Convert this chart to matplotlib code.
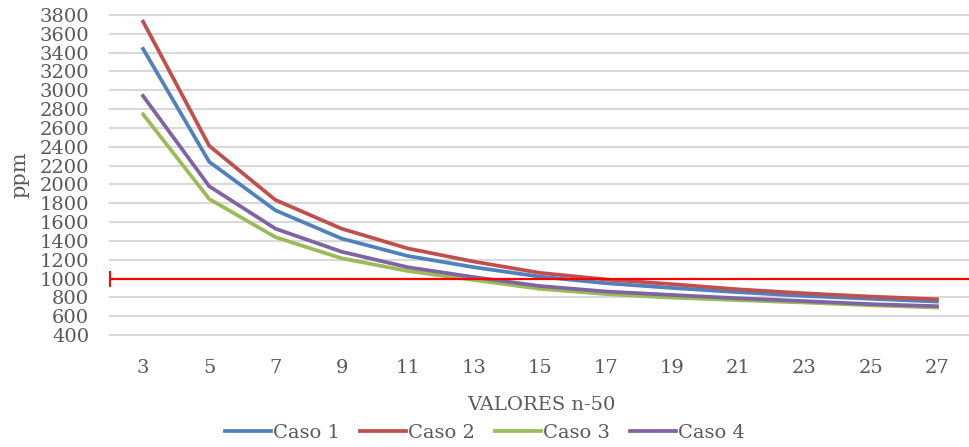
import matplotlib
matplotlib.use("Agg")
from matplotlib import pyplot as plt
from matplotlib.ticker import MultipleLocator

# valores n-50 (categorias)
n_vals = ["3", "5", "7", "9", "11", "13", "15", "17", "19", "21", "23", "25", "27"]

caso1 = [3440, 2240, 1725, 1425, 1240, 1120, 1020, 950, 900, 855, 815, 785, 755]
caso2 = [3730, 2410, 1835, 1530, 1320, 1180, 1060, 990, 940, 885, 843, 808, 780]
caso3 = [2745, 1845, 1440, 1215, 1080, 985, 890, 835, 797, 770, 745, 716, 692]
caso4 = [2940, 1980, 1530, 1285, 1120, 1015, 920, 862, 825, 790, 760, 728, 706]
limite = 1000

plt.rcParams['font.family'] = ['DejaVu Serif']
txt = "#595959"

fig = plt.figure(figsize=(9.7, 4.47), dpi=100)
ax = fig.add_axes([110/970, 1-335/447, 1-110/970, 320/447])

x = list(range(len(n_vals)))
ax.plot(x, caso1, color="#4F81BD", lw=2.7, label="Caso 1", zorder=3)
ax.plot(x, caso2, color="#C0504D", lw=2.7, label="Caso 2", zorder=3)
ax.plot(x, caso3, color="#9BBB59", lw=2.7, label="Caso 3", zorder=3)
ax.plot(x, caso4, color="#8064A2", lw=2.7, label="Caso 4", zorder=3)

# linea limite
ax.axhline(limite, color="#FF0000", lw=1.6, zorder=4)
ax.plot([-0.5], [limite], marker="|", color="#FF0000", markersize=12, mew=1.4, clip_on=False, zorder=4)

ax.set_xlim(-0.5, len(n_vals) - 0.5)
ax.set_ylim(400, 3800)
ax.yaxis.set_major_locator(MultipleLocator(200))
ax.set_xticks(x)
ax.set_xticklabels(n_vals)
ax.grid(axis="y", color="#D9D9D9", lw=1.5, zorder=0)
for gl in ax.get_ygridlines():
	gl.set_clip_on(False)
ax.set_axisbelow(True)
for s in ax.spines.values():
	s.set_visible(False)
ax.tick_params(axis="y", length=0, pad=15, labelsize=14, labelcolor=txt)
ax.tick_params(axis="x", length=0, pad=17, labelsize=14, labelcolor=txt)

fig.text(541/970, 1-405/447, "VALORES n-50", ha="center", va="center", fontsize=14, color=txt)
fig.text(20/970, 1-175/447, "ppm", ha="center", va="center", rotation=90, fontsize=15, color=txt)

leg = fig.legend(loc="center", bbox_to_anchor=(0.5, 1-433/447), ncol=4, frameon=False,
	fontsize=14, handlelength=2.4, handletextpad=0.1, columnspacing=1.0)
for t in leg.get_texts():
	t.set_color(txt)

fig.savefig("out.png", dpi=100)
